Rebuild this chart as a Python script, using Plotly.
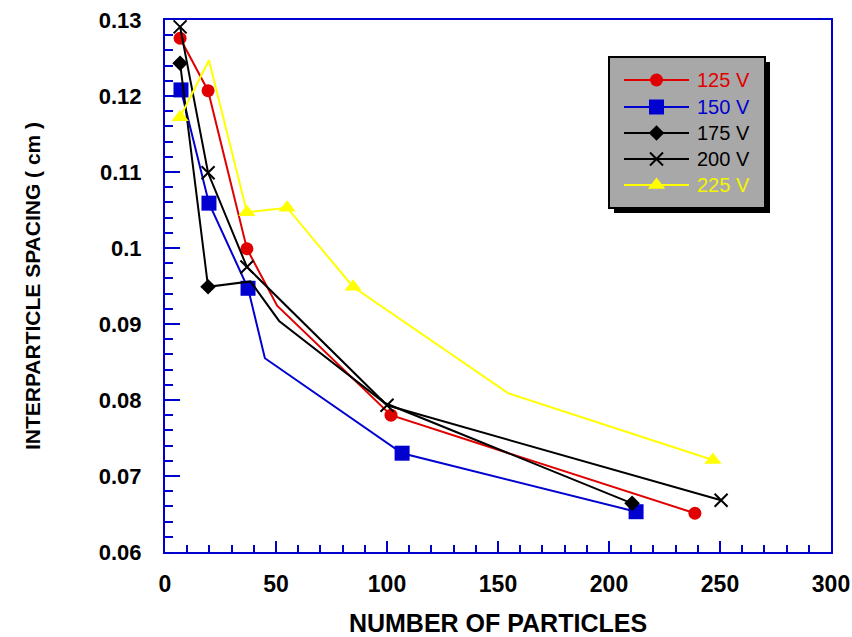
import plotly.graph_objects as go

# Interparticle spacing (cm) against number of particles, for each voltage
x_125 = [6.8, 19.4, 36.9, 50.5, 101.8, 238.7]
y_125 = [0.1276, 0.1207, 0.0999, 0.0924, 0.0780, 0.0651]
mark_125 = [1, 1, 1, 0, 1, 1]

x_150 = [7.2, 19.8, 37.4, 45.0, 106.8, 212.2]
y_150 = [0.1208, 0.1059, 0.0947, 0.0855, 0.0730, 0.0653]
mark_150 = [1, 1, 1, 0, 1, 1]

x_175 = [6.8, 19.4, 38.5, 51.4, 99.0, 210.4]
y_175 = [0.1243, 0.0949, 0.0956, 0.0904, 0.0796, 0.0664]
mark_175 = [1, 1, 0, 0, 0, 1]

x_200 = [6.8, 19.4, 36.9, 100.0, 250.5]
y_200 = [0.1291, 0.1099, 0.0975, 0.0793, 0.0668]
mark_200 = [1, 1, 1, 1, 1]

x_225 = [6.8, 19.8, 36.9, 55.0, 84.7, 154.5, 246.8]
y_225 = [0.1172, 0.1247, 0.1047, 0.1053, 0.0949, 0.0809, 0.0721]
mark_225 = [1, 0, 1, 1, 1, 0, 1]

series_names = ["125 V", "150 V", "175 V", "200 V", "225 V"]
x_ticks = [0, 50, 100, 150, 200, 250, 300]
y_ticks = [0.06, 0.07, 0.08, 0.09, 0.1, 0.11, 0.12, 0.13]
y_tick_text = ["0.06", "0.07", "0.08", "0.09", "0.1", "0.11", "0.12", "0.13"]

RED = "#E00000"
BLUE = "#0000D0"
BLACK = "#000000"
YELLOW = "#FFFF00"
FRAME = "#0000CC"
FONT = "Liberation Sans, Arial, sans-serif"

styles = [
    dict(color=RED, symbol="circle", size=13, line=None),
    dict(color=BLUE, symbol="square", size=15, line=None),
    dict(color=BLACK, symbol="diamond", size=12, line=None),
    dict(color=BLACK, symbol="x-thin-open", size=13, line=dict(width=2, color=BLACK)),
    dict(color=YELLOW, symbol="triangle-up", size=15, line=None),
]
data = [
    (x_125, y_125, mark_125),
    (x_150, y_150, mark_150),
    (x_175, y_175, mark_175),
    (x_200, y_200, mark_200),
    (x_225, y_225, mark_225),
]


def marker_for(st, sizes):
    m = dict(color=st["color"], symbol=st["symbol"], size=sizes, opacity=1)
    m["line"] = st["line"] if st["line"] else dict(width=0)
    return m


fig = go.Figure()

for name, (xs, ys, mk), st in zip(series_names, data, styles):
    fig.add_trace(go.Scatter(
        x=xs, y=ys, mode="lines+markers", name=name,
        line=dict(color=st["color"], width=2),
        marker=marker_for(st, [st["size"] * m for m in mk]),
        showlegend=False, cliponaxis=False,
    ))

# Hand-drawn legend on an overlay axis measured in pixels
LX0, LX1, LY0, LY1 = 165, 831, 552, 20
box = dict(x0=609, y0=57, x1=765, y1=208)
shadow_off = 5
fig.add_shape(type="rect", xref="x2", yref="y2",
              x0=box["x0"] + shadow_off, x1=box["x1"] + shadow_off,
              y0=box["y0"] + shadow_off, y1=box["y1"] + shadow_off,
              fillcolor="#000000", line=dict(width=0), layer="below")
fig.add_shape(type="rect", xref="x2", yref="y2",
              x0=box["x0"], x1=box["x1"], y0=box["y0"], y1=box["y1"],
              fillcolor="#A8A8A8", line=dict(color="#000000", width=2), layer="below")

row_y = [80, 107, 133, 159, 185]
seg_x0, seg_x1 = 624, 689
text_colors = [RED, BLUE, BLACK, BLACK, "#F4F400"]
for name, st, ry, tc in zip(series_names, styles, row_y, text_colors):
    fig.add_trace(go.Scatter(
        x=[seg_x0, (seg_x0 + seg_x1) / 2, seg_x1], y=[ry, ry, ry],
        xaxis="x2", yaxis="y2", mode="lines+markers",
        line=dict(color=st["color"], width=2),
        marker=marker_for(st, [0, st["size"], 0]),
        showlegend=False, hoverinfo="skip",
    ))
    fig.add_annotation(x=seg_x1 + 6, y=ry, xref="x2", yref="y2", text=name,
                       showarrow=False, xanchor="left", yanchor="middle",
                       font=dict(family=FONT, size=20, color=tc))

fig.update_layout(
    width=852, height=637,
    margin=dict(l=165, r=21, t=20, b=85, autoexpand=False),
    paper_bgcolor="#FFFFFF", plot_bgcolor="#FFFFFF",
    showlegend=False,
    xaxis=dict(
        range=[0, 300], tickvals=x_ticks, ticktext=[str(v) for v in x_ticks],
        ticks="inside", ticklen=11, tickwidth=2, tickcolor=FRAME,
        minor=dict(dtick=10, ticks="inside", ticklen=7, tickwidth=2, tickcolor=FRAME),
        showline=True, linecolor=FRAME, linewidth=2, mirror=True,
        showgrid=False, zeroline=False, automargin=False,
        tickfont=dict(family=FONT, size=23, color="#000000", weight="bold"),
        ticklabelstandoff=10,
        title=dict(text="<b>NUMBER OF PARTICLES</b>",
                   font=dict(family=FONT, size=25, color="#000000"), standoff=24),
    ),
    yaxis=dict(
        range=[0.06, 0.13], tickvals=y_ticks, ticktext=y_tick_text,
        ticks="inside", ticklen=15, tickwidth=2, tickcolor=FRAME,
        minor=dict(dtick=0.002, tick0=0.06, ticks="inside", ticklen=8, tickwidth=2, tickcolor=FRAME),
        showline=True, linecolor=FRAME, linewidth=2, mirror=True,
        showgrid=False, zeroline=False, automargin=False,
        tickfont=dict(family=FONT, size=22, color="#000000", weight="bold"),
        ticklabelstandoff=17,
        title=dict(text="<b>INTERPARTICLE SPACING ( cm )</b>",
                   font=dict(family=FONT, size=21, color="#000000"), standoff=52),
    ),
    xaxis2=dict(range=[LX0, LX1], overlaying="x", visible=False, fixedrange=True),
    yaxis2=dict(range=[LY0, LY1], overlaying="y", visible=False, fixedrange=True),
)

fig.write_html("out.html")
